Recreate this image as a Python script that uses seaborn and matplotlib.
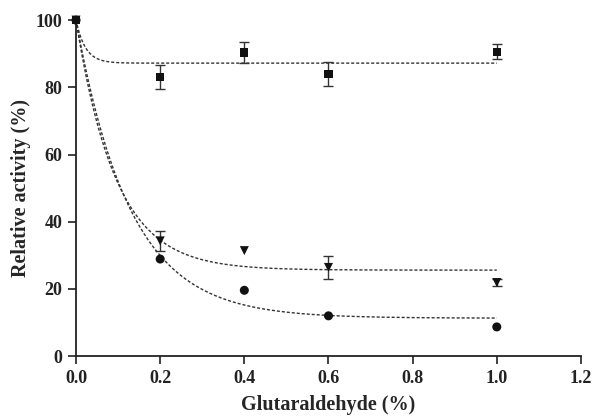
import numpy as np
import pandas as pd
import matplotlib
matplotlib.use("Agg")
import matplotlib.pyplot as plt
import seaborn as sns

# data
conc = [0.0, 0.2, 0.4, 0.6, 1.0]
sq_mean = [100, 83.1, 90.4, 83.9, 90.6]
sq_err = [0, 3.6, 3.1, 3.6, 2.3]
tri_mean = [100, 34.3, 31.4, 26.4, 21.9]
tri_err = [0, 3.0, 0, 3.3, 1.0]
cir_mean = [100, 28.9, 19.6, 12.0, 8.7]
cir_err = [0, 0, 0, 0, 0]

# fitted one-phase decay: plateau + (100 - plateau) * exp(-k x)
sq_fit = (87.2, 45.0)
tri_fit = (25.6, 10.6)
cir_fit = (11.3, 7.8)

sns.set_style("ticks")
plt.rcParams["font.family"] = ["Liberation Serif", "DejaVu Serif"]
plt.rcParams["font.weight"] = "bold"

fig = plt.figure(figsize=(5.94, 4.19), dpi=100)
ax = fig.add_axes([0.128, 0.150, 0.850, 0.802])

xs = np.linspace(0, 1.0, 300)
for plateau, k in [sq_fit, tri_fit, cir_fit]:
    fit = pd.DataFrame({"x": xs, "y": plateau + (100 - plateau) * np.exp(-k * xs)})
    sns.lineplot(data=fit, x="x", y="y", ax=ax, color="#333333", lw=1.0,
                 linestyle=(0, (2.2, 1.4)))

series = [(sq_mean, sq_err, "s", 6), (tri_mean, tri_err, "v", 6.5), (cir_mean, cir_err, "o", 6.5)]
for mean, err, mk, ms in series:
    df = pd.DataFrame({"x": conc, "y": mean, "e": err})
    eb = df[df["e"] > 0]
    if len(eb):
        ax.errorbar(eb["x"], eb["y"], yerr=eb["e"], fmt="none", ecolor="#333333",
                    elinewidth=1.0, capsize=3.5, capthick=1.0, clip_on=False)
    sns.scatterplot(data=df, x="x", y="y", ax=ax, marker=mk, s=ms ** 2, color="#111111",
                    edgecolor="none", clip_on=False, zorder=5)

ax.set_xlim(0, 1.2)
ax.set_ylim(0, 100)
xt = [0.0, 0.2, 0.4, 0.6, 0.8, 1.0, 1.2]
ax.set_xticks(xt)
ax.set_xticklabels([f"{v:.1f}" for v in xt])
ax.set_yticks([0, 20, 40, 60, 80, 100])
ax.tick_params(axis="both", labelsize=13, width=1.2, length=6, pad=4, colors="#222222")
for lab in ax.get_xticklabels() + ax.get_yticklabels():
    lab.set_fontweight("bold")
for side in ["left", "bottom"]:
    ax.spines[side].set_linewidth(1.3)
    ax.spines[side].set_color("#222222")
sns.despine(ax=ax)

ax.set_xlabel("Glutaraldehyde (%)", fontsize=14.5, fontweight="bold", labelpad=6)
ax.set_ylabel("Relative activity (%)", fontsize=14.5, fontweight="bold", labelpad=3)

fig.savefig("out.png", dpi=100)
